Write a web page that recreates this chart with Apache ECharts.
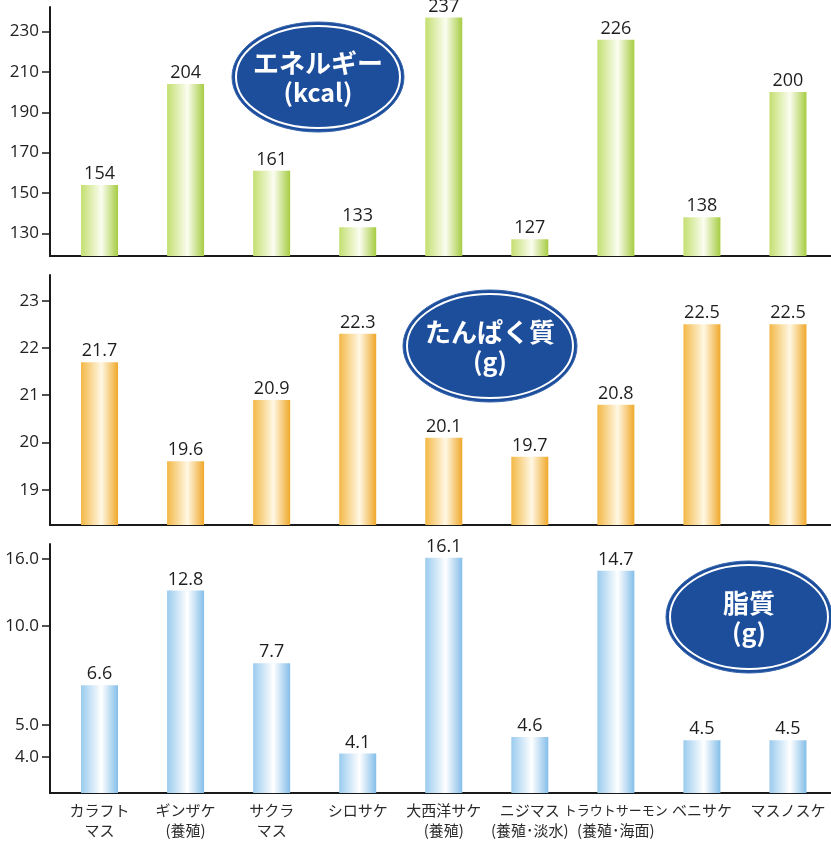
<!DOCTYPE html>
<html>
<head>
<meta charset="utf-8">
<title>サケ・マス類の栄養成分</title>
<script src="https://cdn.jsdelivr.net/npm/echarts@6/dist/echarts.min.js"></script>
<style>
  html, body { margin: 0; padding: 0; background: #ffffff; }
  #chart { width: 831px; height: 842px; }
</style>
</head>
<body>
<div id="chart"></div>
<script>
// Fish names (two-line category labels)
const categories = [
  'カラフト\nマス', 'ギンザケ\n(養殖)', 'サクラ\nマス', 'シロサケ',
  '大西洋サケ\n(養殖)', 'ニジマス\n(養殖･淡水)', '{narrow|トラウトサーモン}\n(養殖･海面)',
  'ベニサケ', 'マスノスケ'
];

// Energy (kcal)
const energy = [154, 204, 161, 133, 237, 127, 226, 138, 200];
// Protein (g)
const protein = [21.7, 19.6, 20.9, 22.3, 20.1, 19.7, 20.8, 22.5, 22.5];
// Fat (g)
const fat = [6.6, 12.8, 7.7, 4.1, 16.1, 4.6, 14.7, 4.5, 4.5];

// Tick labels for each panel
const energyTicks = [130, 150, 170, 190, 210, 230];
const proteinTicks = [19, 20, 21, 22, 23];
const fatTicks = [4, 5, 10, 16];

const chart = echarts.init(document.getElementById('chart'));

const numFont = '"Open Sans", "Noto Sans", sans-serif';
const jpFont = '"Noto Sans CJK JP", "Noto Sans", sans-serif';

function barGradient(left, mid, right) {
  return new echarts.graphic.LinearGradient(0, 0, 1, 0, [
    { offset: 0, color: left },
    { offset: 0.55, color: mid },
    { offset: 1, color: right }
  ]);
}

const panels = [
  { top: 7, height: 249 },
  { top: 275, height: 250 },
  { top: 544, height: 249 }
];

const grids = panels.map(p => ({ left: 56.5, right: -8.5, top: p.top, height: p.height }));

const xAxes = panels.map((p, i) => ({
  type: 'category',
  gridIndex: i,
  data: categories,
  axisLine: { show: true, lineStyle: { color: '#1a1a1a', width: 2 } },
  axisTick: { show: false },
  axisLabel: {
    show: i === 2,
    interval: 0,
    margin: 7,
    color: '#2a2a2a',
    fontFamily: jpFont,
    fontSize: 15,
    lineHeight: 20,
    rich: { narrow: { fontFamily: jpFont, fontSize: 13, lineHeight: 20, color: '#2a2a2a' } }
  }
}));

const yCommon = {
  offset: 6.5,
  splitLine: { show: false },
  axisLine: { show: true, lineStyle: { color: '#1a1a1a', width: 2 } },
  axisTick: { show: true, length: 8, lineStyle: { color: '#1a1a1a', width: 1.5 } }
};

const yAxes = [
  Object.assign({}, yCommon, {
    type: 'value', gridIndex: 0, min: 118.75, max: 242.2,
    axisLabel: { customValues: energyTicks, margin: 11, color: '#222', fontFamily: numFont, fontSize: 17 },
    axisTick: Object.assign({}, yCommon.axisTick, { customValues: energyTicks })
  }),
  Object.assign({}, yCommon, {
    type: 'value', gridIndex: 1, min: 18.253, max: 23.544,
    axisLabel: { customValues: proteinTicks, margin: 11, color: '#222', fontFamily: numFont, fontSize: 17 },
    axisTick: Object.assign({}, yCommon.axisTick, { customValues: proteinTicks })
  }),
  Object.assign({}, yCommon, {
    type: 'log', logBase: 10, gridIndex: 2, min: 3.11, max: 17.73,
    axisLabel: {
      customValues: fatTicks, margin: 11, color: '#222', fontFamily: numFont, fontSize: 17,
      formatter: v => Number(v).toFixed(1)
    },
    axisTick: Object.assign({}, yCommon.axisTick, { customValues: fatTicks })
  })
];

const valueLabel = {
  show: true,
  position: 'top',
  distance: 2,
  color: '#1e1e1e',
  fontFamily: numFont,
  fontSize: 18
};

const series = [
  {
    type: 'bar', xAxisIndex: 0, yAxisIndex: 0, data: energy, barWidth: 37,
    itemStyle: { color: barGradient('#c4df70', '#fbfdf0', '#a6cc42') },
    label: valueLabel
  },
  {
    type: 'bar', xAxisIndex: 1, yAxisIndex: 1, data: protein, barWidth: 37,
    itemStyle: { color: barGradient('#f3b846', '#fff8e4', '#efa82a') },
    label: Object.assign({}, valueLabel, { formatter: p => p.value.toFixed(1) })
  },
  {
    type: 'bar', xAxisIndex: 2, yAxisIndex: 2, data: fat, barWidth: 37,
    itemStyle: { color: barGradient('#9acbee', '#ffffff', '#84bee9') },
    label: Object.assign({}, valueLabel, { formatter: p => p.value.toFixed(1) })
  }
];

// Navy badge with white double rule naming each nutrient
function badge(cx, cy, rx, ry, line1, line2, size1) {
  return [
    {
      type: 'ellipse', z: 100,
      shape: { cx: cx, cy: cy, rx: rx, ry: ry },
      style: { fill: '#1d4e9c', stroke: '#3463ad', lineWidth: 1 }
    },
    {
      type: 'ellipse', z: 101,
      shape: { cx: cx, cy: cy, rx: rx - 4, ry: ry - 4 },
      style: { fill: null, stroke: '#ffffff', lineWidth: 2 }
    },
    {
      type: 'text', z: 102, x: cx, y: cy - 14,
      style: {
        text: line1, fill: '#ffffff', font: 'bold ' + size1 + 'px ' + jpFont,
        align: 'center', verticalAlign: 'middle', textAlign: 'center', textVerticalAlign: 'middle'
      }
    },
    {
      type: 'text', z: 102, x: cx, y: cy + 15,
      style: {
        text: line2, fill: '#ffffff', font: 'bold 25px ' + jpFont,
        align: 'center', verticalAlign: 'middle', textAlign: 'center', textVerticalAlign: 'middle'
      }
    }
  ];
}

// Short axis-line pieces joining each baseline to its offset y axis
const joins = panels.map(p => ({
  type: 'line', z: 50,
  shape: { x1: 49, y1: p.top + p.height, x2: 58, y2: p.top + p.height },
  style: { stroke: '#1a1a1a', lineWidth: 2 }
}));

chart.setOption({
  backgroundColor: '#ffffff',
  animation: false,
  grid: grids,
  xAxis: xAxes,
  yAxis: yAxes,
  series: series,
  graphic: [].concat(
    joins,
    badge(318, 77, 86, 55, 'エネルギー', '(kcal)', 26),
    badge(490, 346, 87, 56, 'たんぱく質', '(g)', 26),
    badge(749, 617, 83, 56, '脂質', '(g)', 26)
  )
});
</script>
</body>
</html>
